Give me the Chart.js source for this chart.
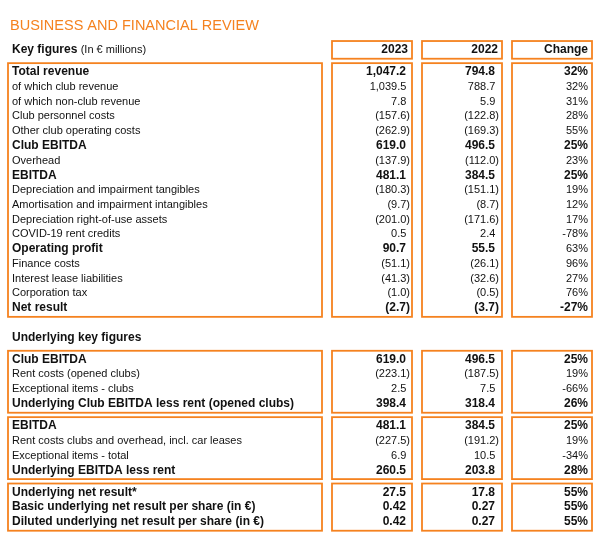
<!DOCTYPE html>
<html>
<head>
<meta charset="utf-8">
<script src="https://cdn.jsdelivr.net/npm/chart.js@4"></script>
<style>
  html, body { margin: 0; background: #fff; }
  #wrap { width: 608px; height: 540px; }
</style>
</head>
<body>
<div id="wrap"><canvas id="reviewChart"></canvas></div>
<script>
const columnLabels = ["2023", "2022", "Change"];

const keyLabels = [
  "Total revenue", "of which club revenue", "of which non-club revenue",
  "Club personnel costs", "Other club operating costs", "Club EBITDA", "Overhead",
  "EBITDA", "Depreciation and impairment tangibles",
  "Amortisation and impairment intangibles", "Depreciation right-of-use assets",
  "COVID-19 rent credits", "Operating profit", "Finance costs",
  "Interest lease liabilities", "Corporation tax", "Net result"
];
const key2023 = [1047.2, 1039.5, 7.8, -157.6, -262.9, 619.0, -137.9, 481.1, -180.3, -9.7, -201.0, 0.5, 90.7, -51.1, -41.3, -1.0, -2.7];
const key2022 = [794.8, 788.7, 5.9, -122.8, -169.3, 496.5, -112.0, 384.5, -151.1, -8.7, -171.6, 2.4, 55.5, -26.1, -32.6, -0.5, -3.7];
const keyChange = [32, 32, 31, 28, 55, 25, 23, 25, 19, 12, 17, -78, 63, 96, 27, 76, -27];

const clubLabels = ["Club EBITDA", "Rent costs (opened clubs)", "Exceptional items - clubs", "Underlying Club EBITDA less rent (opened clubs)"];
const club2023 = [619.0, -223.1, 2.5, 398.4];
const club2022 = [496.5, -187.5, 7.5, 318.4];
const clubChange = [25, 19, -66, 26];

const ebitdaLabels = ["EBITDA", "Rent costs clubs and overhead, incl. car leases", "Exceptional items - total", "Underlying EBITDA less rent"];
const ebitda2023 = [481.1, -227.5, 6.9, 260.5];
const ebitda2022 = [384.5, -191.2, 10.5, 203.8];
const ebitdaChange = [25, 19, -34, 28];

const netLabels = ["Underlying net result*", "Basic underlying net result per share (in €)", "Diluted underlying net result per share (in €)"];
const net2023 = [27.5, 0.42, 0.42];
const net2022 = [17.8, 0.27, 0.27];
const netChange = [55, 55, 55];

// styling
const ORANGE = "#f5821f";
const INK = "#111111";
const FONT = "'Liberation Sans', Arial, sans-serif";
const ROW = 14.75, FIRST_ROW_Y = 72;
const boldRows = [
  [0, 5, 7, 12, 16],
  [0, 3],
  [0, 3],
  [0, 1, 2]
];
const plainChange = ["Operating profit"];

const sections = [
  { start: 0, labels: keyLabels, cols: [key2023, key2022, keyChange] },
  { start: 19.5, labels: clubLabels, cols: [club2023, club2022, clubChange] },
  { start: 24, labels: ebitdaLabels, cols: [ebitda2023, ebitda2022, ebitdaChange] },
  { start: 28.5, labels: netLabels, cols: [net2023, net2022, netChange] }
];

const labelBox = [8, 322];
const valueBoxes = [[332, 412], [422, 502], [512, 592]];
const valueRight = [410, 499, 588];
const headerRight = [408, 498, 588];

function fmt(v, digits) {
  const s = Math.abs(v).toLocaleString("en-US", { minimumFractionDigits: digits, maximumFractionDigits: digits });
  return v < 0 ? "(" + s + ")" : s;
}

function boxAt(ctx, x, y, x0, x1, from, to) {
  const top = y.getPixelForValue(from - 0.6);
  const bot = y.getPixelForValue(to + 0.6);
  ctx.strokeRect(x.getPixelForValue(x0), top, x.getPixelForValue(x1) - x.getPixelForValue(x0), bot - top);
}

const tablePlugin = {
  id: "tableCells",
  afterDraw(chart) {
    const { ctx, scales: { x, y } } = chart;
    ctx.save();
    ctx.textBaseline = "middle";
    ctx.strokeStyle = ORANGE;
    ctx.lineWidth = 1.8;

    // title
    ctx.fillStyle = ORANGE;
    ctx.font = "14.5px " + FONT;
    ctx.textAlign = "left";
    ctx.fillText("BUSINESS AND FINANCIAL REVIEW", x.getPixelForValue(10), y.getPixelForValue(-3.15));

    // header row
    const hy = y.getPixelForValue(-1.5);
    ctx.fillStyle = INK;
    ctx.font = "bold 12px " + FONT;
    ctx.fillText("Key figures", x.getPixelForValue(12), hy);
    const kw = ctx.measureText("Key figures ").width;
    ctx.font = "11px " + FONT;
    ctx.fillText("(In € millions)", x.getPixelForValue(12) + kw, hy);
    ctx.font = "bold 12px " + FONT;
    ctx.textAlign = "right";
    columnLabels.forEach((c, i) => {
      ctx.fillText(c, x.getPixelForValue(headerRight[i]), hy);
      boxAt(ctx, x, y, valueBoxes[i][0], valueBoxes[i][1], -1.5, -1.5);
    });

    ctx.textAlign = "left";
    ctx.fillText("Underlying key figures", x.getPixelForValue(12), y.getPixelForValue(18));

    sections.forEach((sec, si) => {
      const last = sec.start + sec.labels.length - 1;
      boxAt(ctx, x, y, labelBox[0], labelBox[1], sec.start, last);
      valueBoxes.forEach(b => boxAt(ctx, x, y, b[0], b[1], sec.start, last));

      sec.labels.forEach((lab, r) => {
        const py = y.getPixelForValue(sec.start + r);
        const bold = boldRows[si].includes(r);
        const font = bold ? "bold 12px " + FONT : "11px " + FONT;
        ctx.fillStyle = INK;
        ctx.font = font;
        ctx.textAlign = "left";
        ctx.fillText(lab, x.getPixelForValue(12), py);

        ctx.textAlign = "right";
        const digits = lab.includes("per share") ? 2 : 1;
        for (let c = 0; c < 2; c++) {
          const txt = fmt(sec.cols[c][r], digits);
          const shift = txt.endsWith(")") ? 0 : ctx.measureText(")").width;
          ctx.fillText(txt, x.getPixelForValue(valueRight[c]) - shift, py);
        }
        ctx.font = bold && !plainChange.includes(lab) ? font : "11px " + FONT;
        ctx.fillText(sec.cols[2][r] + "%", x.getPixelForValue(valueRight[2]), py);
      });
    });
    ctx.restore();
  }
};

new Chart(document.getElementById("reviewChart"), {
  type: "scatter",
  data: { datasets: [] },
  options: {
    responsive: true,
    maintainAspectRatio: false,
    animation: false,
    layout: { padding: 0 },
    plugins: {
      legend: { display: false },
      tooltip: { enabled: false }
    },
    scales: {
      x: { type: "linear", display: false, min: 0, max: 608 },
      y: { type: "linear", display: false, reverse: true, min: -FIRST_ROW_Y / ROW, max: (540 - FIRST_ROW_Y) / ROW }
    }
  },
  plugins: [tablePlugin]
});
</script>
</body>
</html>
